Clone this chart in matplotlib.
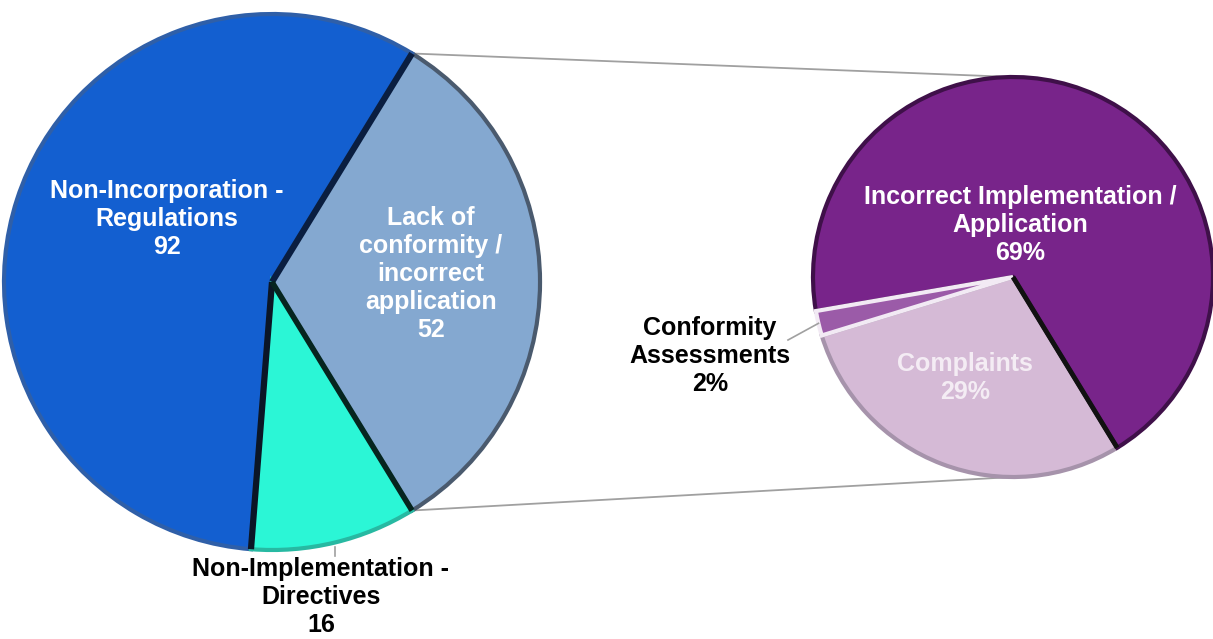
import matplotlib
matplotlib.use("Agg")
import matplotlib.pyplot as plt
import numpy as np

# ---- data ----
left_labels = ["Lack of\nconformity /\nincorrect\napplication",
               "Non-Incorporation -\nRegulations",
               "Non-Implementation -\nDirectives"]
left_values = [52, 92, 16]
left_colors = ["#84A8D0", "#135FD0", "#2BF6D6"]
left_edges = ["#4A5A6E", "#2F5FA8", "#27B9A2"]

right_labels = ["Complaints",
                "Incorrect Implementation /\nApplication",
                "Conformity\nAssessments"]
right_values = [29, 69, 2]
right_colors = ["#D5BAD6", "#78248A", "#9B5BA8"]
right_edges = ["#A693AB", "#3F1049", "#F2EAF4"]

W, H = 1213, 639
fig = plt.figure(figsize=(W / 100, H / 100), dpi=100)
ax = fig.add_axes([0, 0, 1, 1])


def py(y):
    return H - y


LC = (272, py(282))
LR = 268
RC = (1013, py(277))
RR = 200

font = ["Liberation Sans", "DejaVu Sans"]

start_left = -0.5 * 360 * left_values[0] / sum(left_values)
wl, _ = ax.pie(left_values, colors=left_colors, center=LC, radius=LR,
               startangle=start_left, counterclock=True,
               explode=[0.025, 0, 0],
               wedgeprops=dict(linewidth=3, joinstyle="miter"),
               frame=True)
for w, ec in zip(wl, left_edges):
    w.set_edgecolor(ec)

# dark radial seams on the left pie
blue = wl[1]
for ang, col in [(blue.theta1, "#0A1E40"), (blue.theta2, "#0B1626")]:
    a = np.deg2rad(ang)
    ax.plot([blue.center[0], blue.center[0] + blue.r * np.cos(a)],
            [blue.center[1], blue.center[1] + blue.r * np.sin(a)],
            color=col, lw=4.5, solid_capstyle="butt", zorder=3)
lb = wl[0]
a = np.deg2rad(lb.theta1)
gcx, gcy = wl[2].center
ax.plot([gcx, gcx + LR * np.cos(a)], [gcy, gcy + LR * np.sin(a)],
        color="#06251F", lw=4, solid_capstyle="butt", zorder=3)

wr, _ = ax.pie(right_values, colors=right_colors, center=RC, radius=RR,
               startangle=197, counterclock=True,
               explode=[0.02, 0, 0],
               wedgeprops=dict(linewidth=3, joinstyle="miter"),
               frame=True)
for w, ec in zip(wr, right_edges):
    w.set_edgecolor(ec)
# dark seam between complaints and main slice
cp = wr[0]
a = np.deg2rad(cp.theta2)
ax.plot([cp.center[0], cp.center[0] + cp.r * np.cos(a)],
        [cp.center[1], cp.center[1] + cp.r * np.sin(a)],
        color="#111111", lw=3.5, solid_capstyle="butt", zorder=3)

# connector lines between the pies
cx, cy = lb.center
a2 = np.deg2rad(lb.theta2)
a1 = np.deg2rad(lb.theta1)
top_pt = (cx + lb.r * np.cos(a2), cy + lb.r * np.sin(a2))
bot_pt = (cx + lb.r * np.cos(a1), cy + lb.r * np.sin(a1))
ax.plot([top_pt[0], RC[0]], [top_pt[1], RC[1] + RR], color="#A0A0A0", lw=1.3, zorder=0)
ax.plot([bot_pt[0], RC[0]], [bot_pt[1], RC[1] - RR], color="#A0A0A0", lw=1.3, zorder=0)

# leader lines
g = wl[2]
am = np.deg2rad(0.5 * (g.theta1 + g.theta2))
ex, ey = g.center[0] + g.r * np.cos(am), g.center[1] + g.r * np.sin(am)
ax.plot([ex, ex], [ey - 4, py(556)], color="#A0A0A0", lw=1.2)

c = wr[2]
am = np.deg2rad(0.5 * (c.theta1 + c.theta2))
ex, ey = c.center[0] + c.r * np.cos(am), c.center[1] + c.r * np.sin(am)
ax.plot([ex, 788], [ey, py(340)], color="#A0A0A0", lw=1.2)

fs = 18
kw = dict(ha="center", va="center", fontsize=fs, fontweight="bold",
          family=font, linespacing=1.2)

ax.text(167, py(219), f"{left_labels[1]}\n{left_values[1]}", color="white", **kw)
ax.text(431, py(274), f"{left_labels[0]}\n{left_values[0]}", color="white", **kw)
ax.text(321, py(597), f"{left_labels[2]}\n{left_values[2]}", color="black", **kw)

tot = sum(right_values)
ax.text(1020, py(225), f"{right_labels[1]}\n{round(100*right_values[1]/tot)}%", color="white", **kw)
ax.text(965, py(378), f"{right_labels[0]}\n{round(100*right_values[0]/tot)}%", color="#F4ECF4", **kw)
ax.text(710, py(356), f"{right_labels[2]}\n{round(100*right_values[2]/tot)}%", color="black", **kw)

ax.set_xlim(0, W)
ax.set_ylim(0, H)
ax.set_aspect("equal")
ax.axis("off")
fig.savefig("out.png", dpi=100)
